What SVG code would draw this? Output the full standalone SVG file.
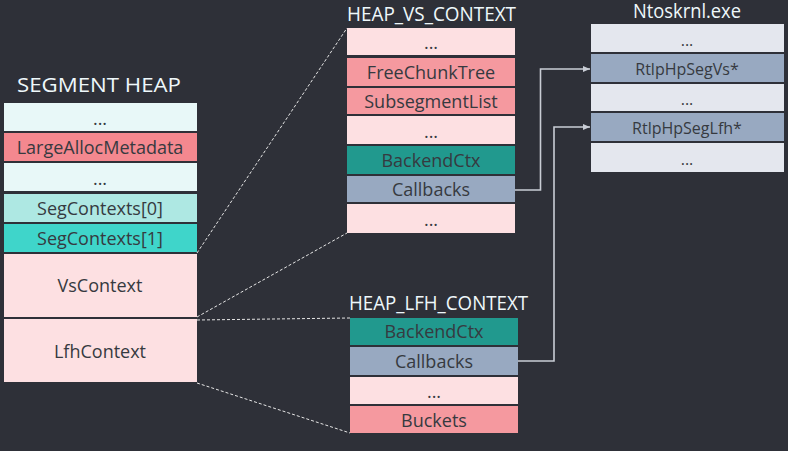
<svg xmlns="http://www.w3.org/2000/svg" width="788" height="451" viewBox="0 0 788 451">
<defs>
<style>
.bg{fill:#2e3038}
.t{font-family:"Open Sans","Noto Sans",sans-serif;font-size:18px;fill:#363a40;text-anchor:middle}
.s{font-size:16px}
.title{font-family:"Open Sans","Noto Sans",sans-serif;font-size:20px;fill:#eef8fb}
.cy{fill:#e8f8f8}
.sal{fill:#f4888f}
.sal2{fill:#f5999f}
.aq0{fill:#aee8e3}
.aq1{fill:#3fd5ca}
.pk{fill:#fde0e2}
.tl{fill:#21998e}
.bl{fill:#98a9c1}
.lg{fill:#e4e7ee}
.dash{stroke:#e6e6e6;stroke-width:1;stroke-dasharray:3,2;fill:none}
.conn{stroke:#c9cdd5;stroke-width:1.6;fill:none}
</style>
<marker id="arr" markerWidth="8" markerHeight="8" refX="7" refY="4" orient="auto" markerUnits="userSpaceOnUse">
<path d="M0,1 L7,4 L0,7 Z" fill="#c9cdd5"/>
</marker>
</defs>
<rect class="bg" x="0" y="0" width="788" height="451"/>

<g id="segment_heap">
<text class="title" x="17" y="92" font-size="21" textLength="164" lengthAdjust="spacingAndGlyphs">SEGMENT HEAP</text>
<rect class="cy" x="4" y="103" width="193" height="28"/>
<text class="t" x="100" y="125">...</text>
<rect class="sal" x="4" y="133" width="193" height="28"/>
<text class="t" x="100" y="154">LargeAllocMetadata</text>
<rect class="cy" x="4" y="163" width="193" height="28"/>
<text class="t" x="100" y="185">...</text>
<rect class="aq0" x="4" y="194" width="193" height="28"/>
<text class="t" x="100" y="215">SegContexts[0]</text>
<rect class="aq1" x="4" y="224" width="193" height="28"/>
<text class="t" x="100" y="245">SegContexts[1]</text>
<rect class="pk" x="4" y="254" width="193" height="63"/>
<text class="t" x="100" y="292">VsContext</text>
<rect class="pk" x="4" y="319" width="193" height="63"/>
<text class="t" x="100" y="358">LfhContext</text>
</g>

<g id="heap_vs_context">
<text class="title" x="347" y="21" textLength="169" lengthAdjust="spacingAndGlyphs">HEAP_VS_CONTEXT</text>
<rect class="pk" x="347" y="28" width="168" height="27"/>
<text class="t" x="431" y="49">...</text>
<rect class="sal2" x="347" y="58" width="168" height="28"/>
<text class="t" x="431" y="79">FreeChunkTree</text>
<rect class="sal2" x="347" y="88" width="168" height="26"/>
<text class="t" x="431" y="108">SubsegmentList</text>
<rect class="pk" x="347" y="116" width="168" height="28"/>
<text class="t" x="431" y="138">...</text>
<rect class="tl" x="347" y="146" width="168" height="28"/>
<text class="t" x="431" y="167">BackendCtx</text>
<rect class="bl" x="347" y="176" width="168" height="26"/>
<text class="t" x="431" y="196">Callbacks</text>
<rect class="pk" x="347" y="204" width="168" height="29"/>
<text class="t" x="431" y="226">...</text>
</g>

<g id="heap_lfh_context">
<text class="title" x="349" y="310" textLength="179" lengthAdjust="spacingAndGlyphs">HEAP_LFH_CONTEXT</text>
<rect class="tl" x="350" y="318" width="168" height="27"/>
<text class="t" x="434" y="338">BackendCtx</text>
<rect class="bl" x="350" y="347" width="168" height="28"/>
<text class="t" x="434" y="368">Callbacks</text>
<rect class="pk" x="350" y="377" width="168" height="27"/>
<text class="t" x="434" y="398">...</text>
<rect class="sal2" x="350" y="406" width="168" height="27"/>
<text class="t" x="434" y="427">Buckets</text>
</g>

<g id="ntoskrnl">
<text class="title" x="633" y="18" font-size="17" textLength="108" lengthAdjust="spacingAndGlyphs">Ntoskrnl.exe</text>
<rect class="lg" x="591" y="24" width="193" height="28"/>
<text class="t s" x="687" y="46">...</text>
<rect class="bl" x="591" y="54" width="193" height="28"/>
<text class="t s" x="687" y="75">RtlpHpSegVs*</text>
<rect class="lg" x="591" y="84" width="193" height="27"/>
<text class="t s" x="687" y="105">...</text>
<rect class="bl" x="591" y="113" width="193" height="28"/>
<text class="t s" x="687" y="134">RtlpHpSegLfh*</text>
<rect class="lg" x="591" y="143" width="193" height="29"/>
<text class="t s" x="687" y="165">...</text>
</g>

<g id="connectors">
<line class="dash" x1="197" y1="253" x2="347" y2="28"/>
<line class="dash" x1="197" y1="317" x2="347" y2="233"/>
<line class="dash" x1="197" y1="320" x2="350" y2="318"/>
<line class="dash" x1="197" y1="383" x2="350" y2="433"/>
<path class="conn" d="M515,190 H540.5 V69 H590" marker-end="url(#arr)"/>
<path class="conn" d="M518,361 H554 V127 H590" marker-end="url(#arr)"/>
</g>
</svg>
